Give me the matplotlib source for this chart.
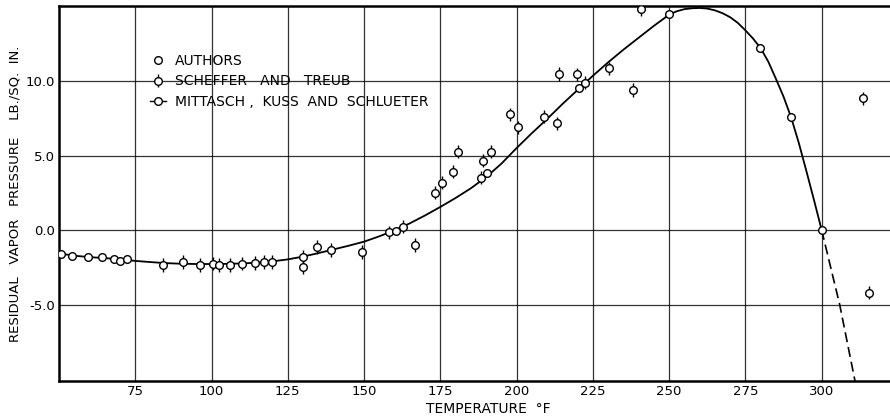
import matplotlib.pyplot as plt
from matplotlib.lines import Line2D

# smooth curve (deg F, lb/sq in)
curve_t = [50, 55, 60, 65, 70, 75, 80, 85, 90, 95, 100, 105, 110, 115, 120,
           125, 130, 135, 140, 145, 150, 155, 160, 165, 170, 175, 180, 185,
           190, 195, 200, 205, 210, 215, 220, 225, 230, 235, 240, 245, 250,
           252.5, 255, 257.5, 260, 262.5, 265, 267.5, 270, 272.5, 275, 277.5,
           280, 282.5, 285, 287.5, 290, 292.5, 295, 297.5, 300]
curve_p = [-1.57, -1.72, -1.82, -1.88, -1.97, -2.07, -2.15, -2.22, -2.26,
           -2.28, -2.28, -2.27, -2.24, -2.19, -2.10, -1.97, -1.78, -1.55,
           -1.30, -1.05, -0.78, -0.42, -0.02, 0.45, 0.98, 1.55, 2.15, 2.80,
           3.55, 4.45, 5.50, 6.50, 7.45, 8.45, 9.40, 10.35, 11.25, 12.10,
           12.90, 13.70, 14.45, 14.68, 14.82, 14.88, 14.90, 14.86, 14.74,
           14.55, 14.28, 13.90, 13.40, 12.85, 12.20, 11.30, 10.15, 8.95,
           7.55, 5.85, 3.95, 2.00, 0.0]

# dashed extrapolation beyond 300 F
dash_t = [300, 305.9, 311.0]
dash_p = [0.0, -5.0, -10.2]

authors_t = [160.5, 190.3, 220.3, 250.0, 279.8, 289.9, 300.0]
authors_p = [-0.05, 3.80, 9.50, 14.47, 12.19, 7.56, 0.0]

scheffer_t = [84.2, 90.8, 96.3, 100.5, 102.6, 106.1, 110.0, 114.3, 117.3,
              119.8, 130.1, 129.9, 134.6, 139.2, 149.2, 158.3, 162.8, 166.6,
              173.1, 175.6, 179.1, 180.7, 188.4, 188.9, 191.6, 197.9, 200.6,
              208.9, 213.2, 213.9, 219.9, 222.3, 230.2, 238.2, 240.7, 313.4,
              315.5]
scheffer_p = [-2.35, -2.15, -2.35, -2.25, -2.35, -2.35, -2.25, -2.20, -2.15,
              -2.15, -1.79, -2.50, -1.14, -1.34, -1.48, -0.16, 0.22, -1.00,
              2.50, 3.17, 3.91, 5.26, 3.51, 4.65, 5.26, 7.76, 6.89, 7.61,
              7.16, 10.47, 10.45, 9.89, 10.85, 9.40, 14.83, 8.84, -4.20]

mittasch_t = [50.6, 54.4, 59.6, 64.1, 67.9, 70.0, 72.3]
mittasch_p = [-1.61, -1.74, -1.83, -1.83, -1.97, -2.08, -1.93]

xticks = [75, 100, 125, 150, 175, 200, 225, 250, 275, 300]
yticks = [-5.0, 0.0, 5.0, 10.0]

plt.rcParams['font.family'] = ['DejaVu Sans']

fig = plt.figure(figsize=(8.9, 4.16), dpi=100)
ax = fig.add_axes([0.0663, 0.0841, 0.9337, 0.9014])

ax.set_xlim(50, 322.4)
ax.set_ylim(-10.13, 15.03)

ax.set_xticks(xticks)
ax.set_yticks(yticks)
ax.set_xticklabels([str(t) for t in xticks], fontsize=9.5)
ax.set_yticklabels(["%.1f" % v for v in yticks], fontsize=9.5)
ax.tick_params(length=0, pad=3)
ax.grid(True, color='black', lw=0.9, alpha=0.8)
ax.set_axisbelow(True)

for side in ['left', 'bottom', 'top']:
    ax.spines[side].set_linewidth(1.8)
ax.spines['right'].set_visible(False)

ax.plot(curve_t, curve_p, color='black', lw=1.3, zorder=3)
ax.plot(dash_t, dash_p, color='black', lw=1.2, ls=(0, (6, 3)), zorder=3)

mk = dict(marker='o', ms=5.5, mfc='white', mec='black', mew=1.0)

ax.errorbar(scheffer_t, scheffer_p, yerr=0.45, fmt='o', ms=5.5, mfc='white',
            mec='black', mew=1.0, ecolor='black', elinewidth=1.0,
            capsize=0, zorder=4)
ax.plot(authors_t, authors_p, ls='none', zorder=5, **mk)
ax.plot(mittasch_t, mittasch_p, ls='none', zorder=5, **mk)

ax.set_xlabel("TEMPERATURE  °F", fontsize=10, labelpad=0)
ax.xaxis.set_label_coords(0.517, -0.055)
ax.set_ylabel("RESIDUAL   VAPOR   PRESSURE    LB./SQ.  IN.", fontsize=9.5,
              labelpad=3)

# legend
h_auth = Line2D([], [], ls='none', **mk)
h_sch = ax.errorbar([], [], yerr=[], fmt='o', ms=5.5, mfc='white', mec='black',
                    mew=1.0, ecolor='black', elinewidth=1.0, capsize=0)
h_mit = Line2D([], [], color='black', lw=1.0, **mk)
ax.legend([h_auth, h_sch, h_mit],
          ["AUTHORS", "SCHEFFER   AND   TREUB",
           "MITTASCH ,  KUSS  AND  SCHLUETER"],
          loc='upper left', bbox_to_anchor=(0.094, 0.905), frameon=False,
          fontsize=10, handlelength=1.2, handletextpad=0.6,
          labelspacing=0.45)

plt.savefig("out.png", dpi=100)
